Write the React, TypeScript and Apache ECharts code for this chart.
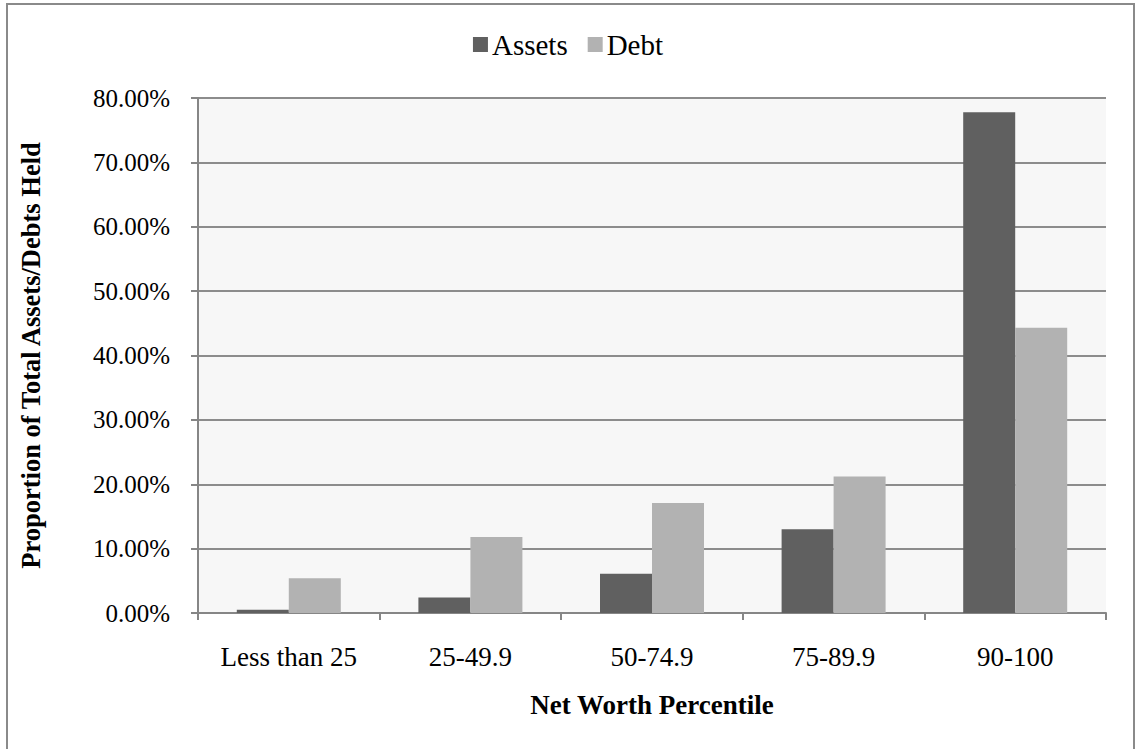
import React, { useEffect, useRef } from "react";
import * as echarts from "echarts";

// Net worth percentile groups
const categories = ["Less than 25", "25-49.9", "50-74.9", "75-89.9", "90-100"];
// Share of total assets held by each group (%)
const assets = [0.5, 2.4, 6.1, 13.0, 77.8];
// Share of total debt held by each group (%)
const debt = [5.4, 11.8, 17.1, 21.2, 44.3];

const FONT = '"Liberation Serif", "Times New Roman", serif';

export default function App() {
  const ref = useRef<HTMLDivElement>(null);

  useEffect(() => {
    if (!ref.current) return;
    const chart = echarts.init(ref.current, null, { renderer: "svg" });
    chart.setOption({
      animation: false,
      backgroundColor: "#ffffff",
      textStyle: { fontFamily: FONT, color: "#000" },
      graphic: [
        {
          type: "rect",
          shape: { x: 7, y: 4, width: 1127, height: 770 },
          style: { fill: "none", stroke: "#8a8a8a", lineWidth: 2 },
          silent: true,
        },
      ],
      legend: {
        top: 25,
        left: "center",
        icon: "rect",
        itemWidth: 15,
        itemHeight: 15,
        itemGap: 20,
        textStyle: { fontFamily: FONT, fontSize: 29, color: "#000", padding: [0, 0, 0, -1] },
        data: ["Assets", "Debt"],
      },
      grid: {
        left: 198,
        right: 30,
        top: 98,
        bottom: 136,
        show: true,
        backgroundColor: "#f7f7f7",
        borderWidth: 0,
      },
      xAxis: {
        type: "category",
        data: categories,
        name: "Net Worth Percentile",
        nameLocation: "middle",
        nameGap: 78,
        nameTextStyle: { fontFamily: FONT, fontSize: 27, fontWeight: "bold", color: "#000" },
        axisLine: { show: true, lineStyle: { color: "#868686", width: 2 } },
        axisTick: { show: true, alignWithLabel: false, length: 7, lineStyle: { color: "#868686", width: 2 } },
        axisLabel: { fontFamily: FONT, fontSize: 27, color: "#000", margin: 30 },
        splitLine: { show: false },
      },
      yAxis: {
        type: "value",
        min: 0,
        max: 80,
        interval: 10,
        name: "Proportion of Total Assets/Debts Held",
        nameLocation: "middle",
        nameGap: 154,
        nameTextStyle: { fontFamily: FONT, fontSize: 26.5, fontWeight: "bold", color: "#000" },
        axisLine: { show: true, lineStyle: { color: "#868686", width: 2 } },
        axisTick: { show: true, length: 7, lineStyle: { color: "#868686", width: 2 } },
        axisLabel: {
          fontFamily: FONT,
          fontSize: 25,
          color: "#000",
          margin: 28,
          formatter: (v: number) => v.toFixed(2) + "%",
        },
        splitLine: { show: true, lineStyle: { color: "#8c8c8c", width: 2 } },
      },
      series: [
        {
          name: "Assets",
          type: "bar",
          data: assets,
          barWidth: 52,
          barGap: "0%",
          itemStyle: { color: "#606060" },
        },
        {
          name: "Debt",
          type: "bar",
          data: debt,
          barWidth: 52,
          barGap: "0%",
          itemStyle: { color: "#b2b2b2" },
        },
      ],
    });
    return () => chart.dispose();
  }, []);

  return (
    <div
      ref={ref}
      style={{ position: "fixed", left: 0, top: 0, width: 1136, height: 749 }}
    />
  );
}
